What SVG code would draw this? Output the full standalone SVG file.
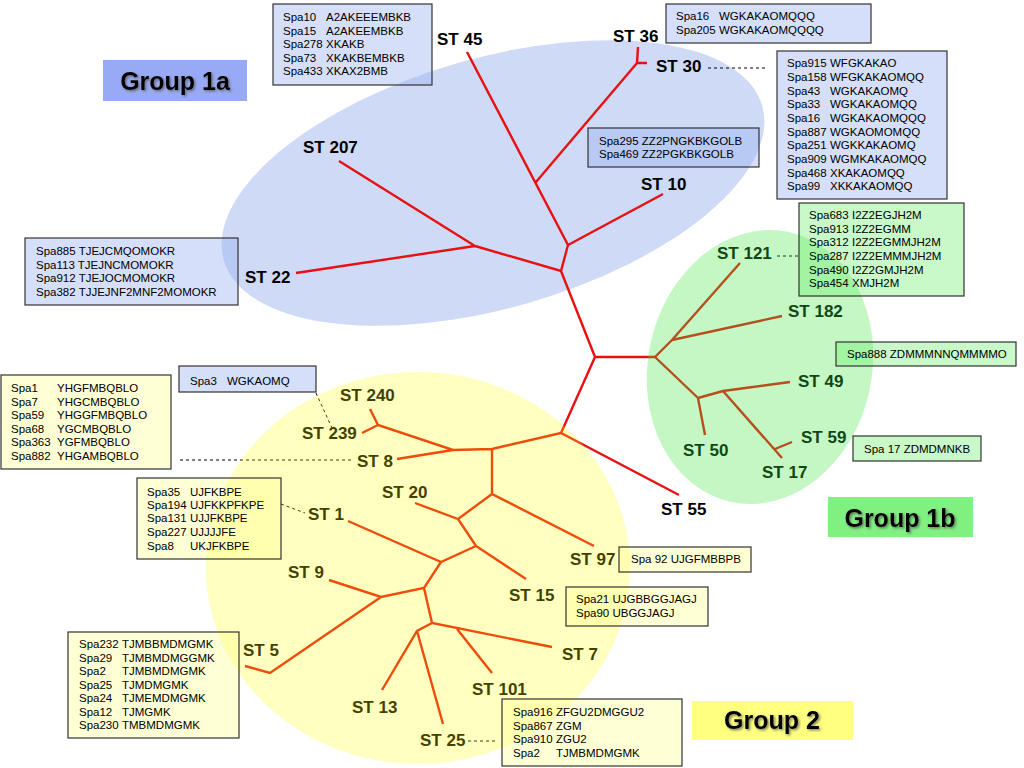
<svg xmlns="http://www.w3.org/2000/svg" width="1024" height="768" viewBox="0 0 1024 768">
<defs>
<style>
.st{font-family:"Liberation Sans",Arial,sans-serif;font-weight:bold;font-size:17px;fill:#000}
.bt{font-family:"Liberation Sans",Arial,sans-serif;font-size:11.5px;fill:#000}
.gl{font-family:"Liberation Sans",Arial,sans-serif;font-weight:bold;font-size:25px;fill:#000;text-anchor:middle}
.bb{fill:#96aff0;fill-opacity:0.4;stroke:#333;stroke-width:1.2}
.yb{fill:#ffff96;fill-opacity:0.4;stroke:#333;stroke-width:1.2}
.gb{fill:#64eb64;fill-opacity:0.35;stroke:#333;stroke-width:1.2}
.tree{fill:none;stroke:#e81010;stroke-width:2.4;stroke-linejoin:miter}
.dash{stroke:#000;stroke-width:1;stroke-dasharray:3 3;fill:none}
</style>
<filter id="sh" x="-10%" y="-20%" width="130%" height="160%">
<feDropShadow dx="1.5" dy="1.5" stdDeviation="0.8" flood-color="#555" flood-opacity="0.7"/>
</filter>
</defs>
<rect width="1024" height="768" fill="#fff"/>

<!-- Group 1a region -->
<ellipse id="region-1a" cx="493" cy="183" rx="280" ry="125" transform="rotate(-16 493 183)" fill="#cfdaf7"/>

<!-- connectors -->
<g id="connectors">
<path class="tree" d="M467,52 L568,245 M536,182 L637,63 M638,47 L637,63 L647,63 M568,245 L663,194 M568,245 L561,271 L475,246 M339,161 L475,246 L296,273 M561,271 L595,357 L655,357 M595,357 L561,433"/>
<path class="tree" d="M655,357 L672,340 L740,263 M672,340 L782,316 M655,357 L698,398 L705,435 M698,398 L723,391 L790,382 M723,391 L782,458 M775,449 L792,442"/>
<path class="tree" d="M561,433 L679,495 M561,433 L492,449 L453,450 L378,425 L370,409 M378,425 L362,433 M453,450 L397,459 M492,449 L492,494 L594,546 M492,494 L458,519 L415,503 M458,519 L476,546 L526,579 M476,546 L441,562 L348,521 M441,562 L424,588 L381,597 L329,580 M381,597 L270,673 L245,666 M424,588 L432,623 L552,647 M432,623 L417,631 L382,690 M417,631 L443,724 M457,629 L492,673"/>
<path class="dash" d="M708,68 H768 M777,256 H799 M316,393 L332,428 M180,460 H353 M281,504 L305,513 M468,741 H495"/>
</g>

<!-- ST nodes -->
<g id="st45"><text class="st" x="437" y="45">ST 45</text></g>
<g id="st36"><text class="st" x="613" y="42">ST 36</text></g>
<g id="st30"><text class="st" x="656" y="72">ST 30</text></g>
<g id="st207"><text class="st" x="303" y="153">ST 207</text></g>
<g id="st10"><text class="st" x="641" y="190">ST 10</text></g>
<g id="st22"><text class="st" x="245" y="283">ST 22</text></g>
<g id="st121"><text class="st" x="717" y="259">ST 121</text></g>
<g id="st182"><text class="st" x="788" y="317">ST 182</text></g>
<g id="st49"><text class="st" x="798" y="387">ST 49</text></g>
<g id="st59"><text class="st" x="801" y="443">ST 59</text></g>
<g id="st50"><text class="st" x="683" y="456">ST 50</text></g>
<g id="st17"><text class="st" x="762" y="478">ST 17</text></g>
<g id="st55"><text class="st" x="661" y="515">ST 55</text></g>
<g id="st240"><text class="st" x="340" y="401">ST 240</text></g>
<g id="st239"><text class="st" x="302" y="439">ST 239</text></g>
<g id="st8"><text class="st" x="357" y="467">ST 8</text></g>
<g id="st20"><text class="st" x="382" y="498">ST 20</text></g>
<g id="st1"><text class="st" x="308" y="520">ST 1</text></g>
<g id="st9"><text class="st" x="288" y="578">ST 9</text></g>
<g id="st5"><text class="st" x="243" y="656">ST 5</text></g>
<g id="st97"><text class="st" x="570" y="565">ST 97</text></g>
<g id="st15"><text class="st" x="509" y="601">ST 15</text></g>
<g id="st7"><text class="st" x="562" y="660">ST 7</text></g>
<g id="st101"><text class="st" x="472" y="695">ST 101</text></g>
<g id="st13"><text class="st" x="352" y="713">ST 13</text></g>
<g id="st25"><text class="st" x="420" y="746">ST 25</text></g>

<!-- translucent group regions -->
<ellipse id="region-2" cx="418" cy="568" rx="212" ry="196" fill="#ffff00" fill-opacity="0.25"/>
<ellipse id="region-1b" cx="760" cy="367" rx="112" ry="138" transform="rotate(12 760 367)" fill="#3ce63c" fill-opacity="0.3"/>

<!-- group labels -->
<g id="label-group-1a"><rect x="103" y="60" width="144" height="41" fill="#99aaf5"/><text class="gl" x="175" y="90" filter="url(#sh)">Group 1a</text></g>
<g id="label-group-1b"><rect x="828" y="497" width="145" height="40" fill="#80f080"/><text class="gl" x="900" y="527" filter="url(#sh)">Group 1b</text></g>
<g id="label-group-2"><rect x="692" y="701" width="161" height="39" fill="#ffff80"/><text class="gl" x="772" y="729" filter="url(#sh)">Group 2</text></g>

<!-- info boxes -->
<g id="box-st45">
<rect class="bb" x="273" y="4" width="159" height="81"/>
<text class="bt"><tspan x="283" y="21">Spa10</tspan><tspan x="326" y="21">A2AKEEEMBKB</tspan><tspan x="283" y="35">Spa15</tspan><tspan x="326" y="35">A2AKEEMBKB</tspan><tspan x="283" y="48">Spa278</tspan><tspan x="326" y="48">XKAKB</tspan><tspan x="283" y="62">Spa73</tspan><tspan x="326" y="62">XKAKBEMBKB</tspan><tspan x="283" y="75">Spa433</tspan><tspan x="326" y="75">XKAX2BMB</tspan></text>
</g>
<g id="box-st36">
<rect class="bb" x="666" y="4" width="205" height="39"/>
<text class="bt"><tspan x="676" y="20">Spa16</tspan><tspan x="719" y="20">WGKAKAOMQQQ</tspan><tspan x="676" y="34">Spa205</tspan><tspan x="719" y="34">WGKAKAOMQQQQ</tspan></text>
</g>
<g id="box-st30">
<rect class="bb" x="777" y="51" width="170" height="148"/>
<text class="bt"><tspan x="787" y="67">Spa915</tspan><tspan x="830" y="67">WFGKAKAO</tspan><tspan x="787" y="81">Spa158</tspan><tspan x="830" y="81">WFGKAKAOMQQ</tspan><tspan x="787" y="95">Spa43</tspan><tspan x="830" y="95">WGKAKAOMQ</tspan><tspan x="787" y="108">Spa33</tspan><tspan x="830" y="108">WGKAKAOMQQ</tspan><tspan x="787" y="122">Spa16</tspan><tspan x="830" y="122">WGKAKAOMQQQ</tspan><tspan x="787" y="136">Spa887</tspan><tspan x="830" y="136">WGKAOMOMQQ</tspan><tspan x="787" y="149">Spa251</tspan><tspan x="830" y="149">WGKKAKAOMQ</tspan><tspan x="787" y="163">Spa909</tspan><tspan x="830" y="163">WGMKAKAOMQQ</tspan><tspan x="787" y="177">Spa468</tspan><tspan x="830" y="177">XKAKAOMQQ</tspan><tspan x="787" y="190">Spa99</tspan><tspan x="830" y="190">XKKAKAOMQQ</tspan></text>
</g>
<g id="box-st10">
<rect class="bb" x="588" y="128" width="171" height="39"/>
<text class="bt"><tspan x="599" y="145">Spa295 ZZ2PNGKBKGOLB</tspan><tspan x="599" y="158">Spa469 ZZ2PGKBKGOLB</tspan></text>
</g>
<g id="box-st22">
<rect class="bb" x="25" y="238" width="213" height="67"/>
<text class="bt"><tspan x="36" y="255">Spa885 TJEJCMQOMOKR</tspan><tspan x="36" y="269">Spa113 TJEJNCMOMOKR</tspan><tspan x="36" y="282">Spa912 TJEJOCMOMOKR</tspan><tspan x="36" y="296">Spa382 TJJEJNF2MNF2MOMOKR</tspan></text>
</g>
<g id="box-st121">
<rect class="gb" x="799" y="203" width="165" height="93"/>
<text class="bt"><tspan x="809" y="219">Spa683</tspan><tspan x="852" y="219">I2Z2EGJH2M</tspan><tspan x="809" y="233">Spa913</tspan><tspan x="852" y="233">I2Z2EGMM</tspan><tspan x="809" y="246">Spa312</tspan><tspan x="852" y="246">I2Z2EGMMJH2M</tspan><tspan x="809" y="260">Spa287</tspan><tspan x="852" y="260">I2Z2EMMMJH2M</tspan><tspan x="809" y="274">Spa490</tspan><tspan x="852" y="274">I2Z2GMJH2M</tspan><tspan x="809" y="287">Spa454</tspan><tspan x="852" y="287">XMJH2M</tspan></text>
</g>
<g id="box-st49">
<rect class="gb" x="836" y="342" width="180" height="24"/>
<text class="bt" x="847" y="358">Spa888 ZDMMMNNQMMMMO</text>
</g>
<g id="box-st59">
<rect class="gb" x="853" y="436" width="128" height="25"/>
<text class="bt" x="864" y="453">Spa 17 ZDMDMNKB</text>
</g>
<g id="box-st239">
<rect class="bb" x="179" y="366" width="137" height="26"/>
<text class="bt"><tspan x="190" y="385">Spa3</tspan><tspan x="227" y="385">WGKAOMQ</tspan></text>
</g>
<g id="box-st8">
<rect class="yb" x="1" y="375" width="170" height="94"/>
<text class="bt"><tspan x="11" y="392">Spa1</tspan><tspan x="57" y="392">YHGFMBQBLO</tspan><tspan x="11" y="406">Spa7</tspan><tspan x="57" y="406">YHGCMBQBLO</tspan><tspan x="11" y="419">Spa59</tspan><tspan x="57" y="419">YHGGFMBQBLO</tspan><tspan x="11" y="433">Spa68</tspan><tspan x="57" y="433">YGCMBQBLO</tspan><tspan x="11" y="446">Spa363</tspan><tspan x="57" y="446">YGFMBQBLO</tspan><tspan x="11" y="460">Spa882</tspan><tspan x="57" y="460">YHGAMBQBLO</tspan></text>
</g>
<g id="box-st1">
<rect class="yb" x="137" y="478" width="144" height="81"/>
<text class="bt"><tspan x="147" y="496">Spa35</tspan><tspan x="190" y="496">UJFKBPE</tspan><tspan x="147" y="509">Spa194</tspan><tspan x="190" y="509">UJFKKPFKPE</tspan><tspan x="147" y="522">Spa131</tspan><tspan x="190" y="522">UJJFKBPE</tspan><tspan x="147" y="536">Spa227</tspan><tspan x="190" y="536">UJJJJFE</tspan><tspan x="147" y="550">Spa8</tspan><tspan x="190" y="550">UKJFKBPE</tspan></text>
</g>
<g id="box-st5">
<rect class="yb" x="68" y="632" width="171" height="106"/>
<text class="bt"><tspan x="79" y="648">Spa232</tspan><tspan x="122" y="648">TJMBBMDMGMK</tspan><tspan x="79" y="662">Spa29</tspan><tspan x="122" y="662">TJMBMDMGGMK</tspan><tspan x="79" y="675">Spa2</tspan><tspan x="122" y="675">TJMBMDMGMK</tspan><tspan x="79" y="689">Spa25</tspan><tspan x="122" y="689">TJMDMGMK</tspan><tspan x="79" y="702">Spa24</tspan><tspan x="122" y="702">TJMEMDMGMK</tspan><tspan x="79" y="716">Spa12</tspan><tspan x="122" y="716">TJMGMK</tspan><tspan x="79" y="729">Spa230</tspan><tspan x="122" y="729">TMBMDMGMK</tspan></text>
</g>
<g id="box-st97">
<rect class="yb" x="619" y="547" width="132" height="25"/>
<text class="bt" x="631" y="563">Spa 92 UJGFMBBPB</text>
</g>
<g id="box-st15">
<rect class="yb" x="566" y="587" width="142" height="39"/>
<text class="bt"><tspan x="576" y="603">Spa21 UJGBBGGJAGJ</tspan><tspan x="576" y="617">Spa90 UBGGJAGJ</tspan></text>
</g>
<g id="box-st25">
<rect class="yb" x="502" y="699" width="180" height="67"/>
<text class="bt"><tspan x="513" y="716">Spa916</tspan><tspan x="556" y="716">ZFGU2DMGGU2</tspan><tspan x="513" y="730">Spa867</tspan><tspan x="556" y="730">ZGM</tspan><tspan x="513" y="743">Spa910</tspan><tspan x="556" y="743">ZGU2</tspan><tspan x="513" y="757">Spa2</tspan><tspan x="556" y="757">TJMBMDMGMK</tspan></text>
</g>
</svg>
